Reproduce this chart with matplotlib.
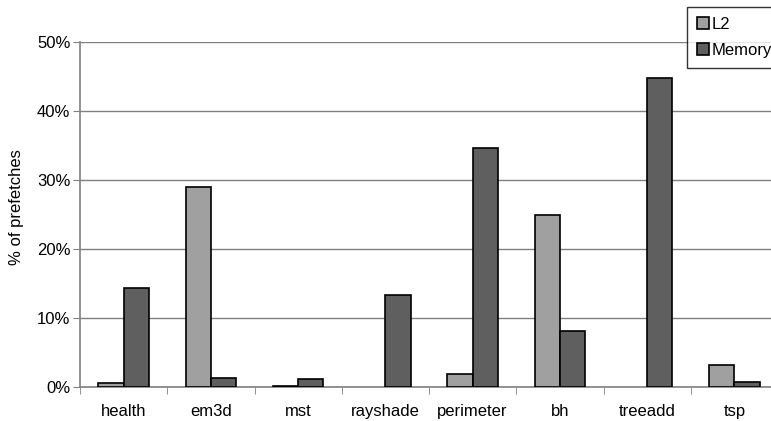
import matplotlib
matplotlib.use("Agg")
import matplotlib.pyplot as plt
import numpy as np
from matplotlib.ticker import FuncFormatter

plt.rcParams["font.family"] = ["Liberation Sans", "DejaVu Sans"]

benchmarks = ["health", "em3d", "mst", "rayshade", "perimeter", "bh", "treeadd", "tsp"]
l2 = [0.6, 29.0, 0.2, 0.0, 1.9, 25.0, 0.0, 3.2]
memory = [14.4, 1.3, 1.2, 13.3, 34.6, 8.1, 44.8, 0.7]

W, H = 771, 421
fig = plt.figure(figsize=(W / 100, H / 100), dpi=100)
# plot area runs past the right edge of the picture, as in the original crop
ax = fig.add_axes([80 / W, 1 - 387 / H, 698 / W, 345 / H])

x = np.arange(len(benchmarks))
bw = 0.29


def edges(vals):
    # bars of height 0 leave no outline in the original
    return ["black" if v > 0 else "none" for v in vals]


ax.bar(x - bw / 2, l2, bw, color="#a0a0a0", edgecolor=edges(l2), linewidth=1.2,
       label="L2", zorder=3)
ax.bar(x + bw / 2, memory, bw, color="#5f5f5f", edgecolor=edges(memory), linewidth=1.2,
       label="Memory", zorder=3)

ax.set_xlim(-0.5, len(benchmarks) - 0.5)
ax.set_ylim(0, 50)
ax.set_yticks(np.arange(0, 51, 10))
ax.yaxis.set_major_formatter(FuncFormatter(lambda v, _: f"{v:.0f}%"))
ax.set_xticks(x)
ax.set_xticklabels(benchmarks)
ax.set_xticks(np.arange(-0.5, len(benchmarks), 1), minor=True)
ax.tick_params(axis="x", which="major", length=0, pad=12, labelsize=12)
ax.tick_params(axis="x", which="minor", length=5, color="#808080", direction="out")
ax.tick_params(axis="y", length=5, color="#808080", labelsize=12, pad=2)

ax.grid(axis="y", color="#808080", linewidth=1, zorder=0)
for side in ("top", "right"):
    ax.spines[side].set_visible(False)
for side in ("left", "bottom"):
    ax.spines[side].set_color("#808080")
    ax.spines[side].set_linewidth(1.2)

# y label sits at a fixed spot in the figure
fig.text(17 / W, 1 - 207 / H, "% of prefetches", rotation=90,
         ha="center", va="center", fontsize=12)

leg = fig.legend(loc="upper left", bbox_to_anchor=(687 / W, 1 - 7 / H),
                 fontsize=12, frameon=True, fancybox=False, edgecolor="black",
                 handlelength=0.7, handleheight=0.7, handletextpad=0.2,
                 borderaxespad=0, borderpad=0.6, labelspacing=0.63)
leg.get_frame().set_linewidth(1)

fig.savefig("out.png", dpi=100)
